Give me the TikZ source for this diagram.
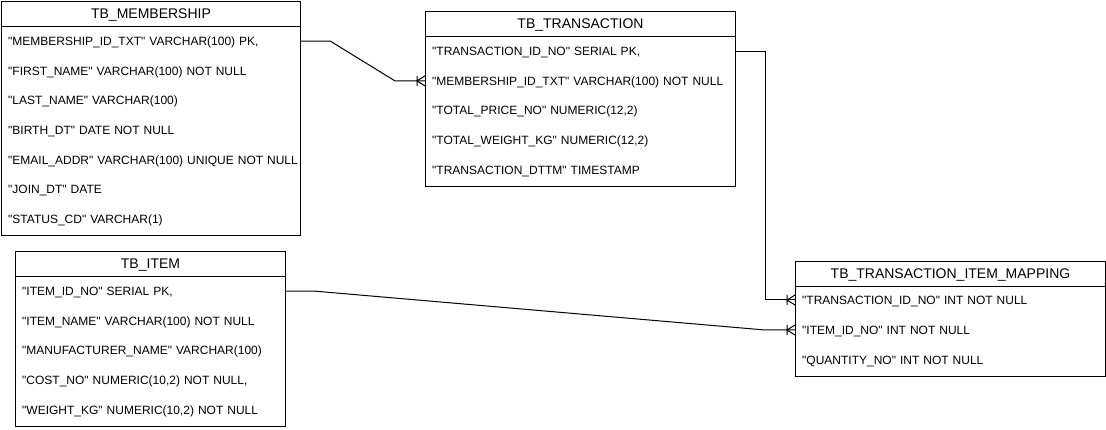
\documentclass[tikz,border=0pt]{standalone}
\usepackage{fontspec}
\setmainfont{Liberation Sans}[Ligatures=TeXOff]
\usetikzlibrary{calc}

\tikzset{
  rel/.style={line width=1pt},
  tbl/.style={draw, line width=1pt, anchor=north west, inner sep=0pt},
  hdr/.style={font=\fontsize{14}{16}\selectfont, inner sep=0pt, text height=10pt, text depth=0pt},
  fld/.style={font=\fontsize{12}{14}\selectfont, anchor=west, inner xsep=7pt, inner ysep=0pt,
    align=left, text height=8.6pt, text depth=0pt},
  crowfoot/.pic={\draw[rel] (-8,-5) -- (-8,5) (0,-5) -- (-8,0) -- (0,5);}
}

\begin{document}
\begin{tikzpicture}[x=1pt, y=-1pt]
\useasboundingbox (0,0) rectangle (1106,430);

% TB_MEMBERSHIP
\node[tbl, minimum width=299pt, minimum height=234pt] (membership) at (1,1) {};
\node[hdr] (memhead) at ($(membership.north)+(0,13)$) {TB\_MEMBERSHIP};
\draw[rel] ($(membership.north west)+(0,26)$) -- ($(membership.north east)+(0,26)$);
\foreach \i/\txt in {
    1/{"MEMBERSHIP\_ID\_TXT" VARCHAR(100) PK,},
    2/{"FIRST\_NAME" VARCHAR(100) NOT NULL},
    3/{"LAST\_NAME" VARCHAR(100)},
    4/{"BIRTH\_DT" DATE NOT NULL},
    5/{"EMAIL\_ADDR" VARCHAR(100) UNIQUE NOT NULL},
    6/{"JOIN\_DT" DATE},
    7/{"STATUS\_CD" VARCHAR(1)}}{
  \node[fld, text width=285pt] (mem\i) at ($(membership.north west)+(0,10.5+29.7*\i)$) {\mbox{\txt}};
}

% TB_TRANSACTION
\node[tbl, minimum width=310pt, minimum height=175pt] (transaction) at (425,11) {};
\node[hdr] (trnhead) at ($(transaction.north)+(0,13)$) {TB\_TRANSACTION};
\draw[rel] ($(transaction.north west)+(0,26)$) -- ($(transaction.north east)+(0,26)$);
\foreach \i/\txt in {
    1/{"TRANSACTION\_ID\_NO" SERIAL PK,},
    2/{"MEMBERSHIP\_ID\_TXT" VARCHAR(100) NOT NULL},
    3/{"TOTAL\_PRICE\_NO" NUMERIC(12,2)},
    4/{"TOTAL\_WEIGHT\_KG" NUMERIC(12,2)},
    5/{"TRANSACTION\_DTTM" TIMESTAMP}}{
  \node[fld, text width=296pt] (trn\i) at ($(transaction.north west)+(0,10.5+29.7*\i)$) {\mbox{\txt}};
}

% TB_ITEM
\node[tbl, minimum width=270pt, minimum height=175pt] (item) at (15,251) {};
\node[hdr] (itmhead) at ($(item.north)+(0,13)$) {TB\_ITEM};
\draw[rel] ($(item.north west)+(0,26)$) -- ($(item.north east)+(0,26)$);
\foreach \i/\txt in {
    1/{"ITEM\_ID\_NO" SERIAL PK,},
    2/{"ITEM\_NAME" VARCHAR(100) NOT NULL},
    3/{"MANUFACTURER\_NAME" VARCHAR(100)},
    4/{"COST\_NO" NUMERIC(10,2) NOT NULL,},
    5/{"WEIGHT\_KG" NUMERIC(10,2) NOT NULL}}{
  \node[fld, text width=256pt] (itm\i) at ($(item.north west)+(0,10.5+29.7*\i)$) {\mbox{\txt}};
}

% TB_TRANSACTION_ITEM_MAPPING
\node[tbl, minimum width=310pt, minimum height=115pt] (mapping) at (795,261) {};
\node[hdr] (maphead) at ($(mapping.north)+(0,13)$) {TB\_TRANSACTION\_ITEM\_MAPPING};
\draw[rel] ($(mapping.north west)+(0,26)$) -- ($(mapping.north east)+(0,26)$);
\foreach \i/\txt in {
    1/{"TRANSACTION\_ID\_NO" INT NOT NULL},
    2/{"ITEM\_ID\_NO" INT NOT NULL},
    3/{"QUANTITY\_NO" INT NOT NULL}}{
  \node[fld, text width=296pt] (map\i) at ($(mapping.north west)+(0,9+30*\i)$) {\mbox{\txt}};
}

% relations
\draw[rel] (mem1.east) -- ++(30,0) -- ($(trn2.west)+(-30,0)$) -- (trn2.west);
\pic at (trn2.west) {crowfoot};
\draw[rel] (trn1.east) -- ++(30,0) |- (map1.west);
\pic at (map1.west) {crowfoot};
\draw[rel] (itm1.east) -- ++(30,0) -- ($(map2.west)+(-30,0)$) -- (map2.west);
\pic at (map2.west) {crowfoot};
\end{tikzpicture}
\end{document}
